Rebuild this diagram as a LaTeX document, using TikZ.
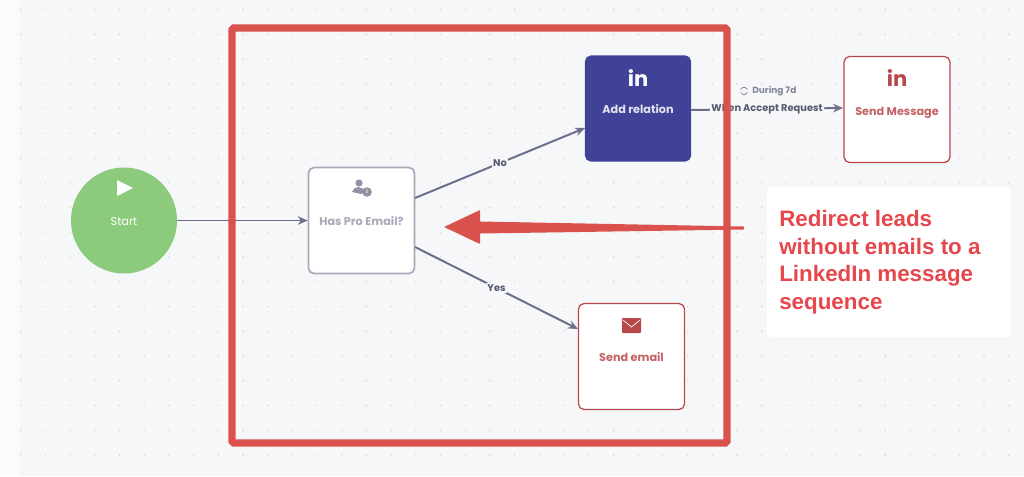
\documentclass[tikz,border=0pt]{standalone}
\usepackage{fontspec}
\usetikzlibrary{arrows.meta}
\setmainfont{Poppins}
\newfontfamily\notefont{Liberation Sans}
\newcommand{\lowtext}[2]{\raisebox{-#1}[0pt][0pt]{#2}}
\definecolor{pagebg}{HTML}{F6F7F9}
\definecolor{edgegray}{HTML}{6E6E8A}
\definecolor{framered}{HTML}{D9524E}
\definecolor{notered}{HTML}{E5474C}
\definecolor{sendred}{HTML}{B8474A}
\definecolor{startgreen}{HTML}{8CCB7C}
\definecolor{relationblue}{HTML}{3F4296}
\definecolor{askgray}{HTML}{A9A9BA}
\tikzset{
  flowbox/.style={rectangle, rounded corners=.14cm, minimum size=2.65cm, line width=.9pt,
    font=\fontsize{8}{10}\selectfont\bfseries},
  sendbox/.style={flowbox, draw=sendred, fill=white, text=sendred!85!white},
  edgelabel/.style={fill=pagebg, inner sep=1pt, text=edgegray!80!black,
    font=\fontsize{7}{8}\selectfont\bfseries},
  edgeline/.style={->, >={Stealth[length=7pt,width=6pt]}, edgegray, line width=1.4pt}
}
\begin{document}
\begin{tikzpicture}[x=.025cm, y=-.025cm]
\useasboundingbox (0,0) rectangle (1024,476);
\fill[white!50!pagebg] (0,0) rectangle (1024,476);
\fill[pagebg] (20,0) rectangle (1024,476);
% dots of the canvas
\foreach \i in {0,...,40}
  \foreach \j in {0,...,18}
    \fill[edgegray!30] (20.7+24.7*\i,9.5+24.75*\j) circle (.8);
% nodes
\node[circle, fill=startgreen, minimum size=2.65cm, text=white,
  font=\fontsize{8}{10}\selectfont] (start) at (124,220.5) {\lowtext{3.2pt}{Start}};
\node[flowbox, draw=askgray, line width=1.2pt, fill=white, text=askgray] (haspro) at (361.5,220.5) {\lowtext{3.2pt}{Has Pro Email?}};
\node[flowbox, fill=relationblue, text=white!85!relationblue] (addrel) at (638,108.5) {\lowtext{3.2pt}{Add relation}};
\node[sendbox] (sendmsg) at (897,109.5) {\lowtext{4.2pt}{Send Message}};
\node[sendbox] (sendmail) at (631.5,356.5) {\lowtext{3.2pt}{Send email}};
% icons
\fill[white, rounded corners=.3pt] (117,180) -- (133,188) -- (117,196) -- cycle;
\node[text=white, font=\fontsize{15}{15}\selectfont\bfseries] (inblue) at (638,78) {in};
\node[text=sendred, font=\fontsize{15}{15}\selectfont\bfseries] (inred) at (897,78) {in};
\fill[edgegray!75] (359,183) circle (3.6);
\fill[edgegray!75] (352,192) to[out=70, in=180] (358,187) to[out=0, in=110] (365,192) -- (361,194) -- cycle;
\node[circle, fill=edgegray!75, text=white, inner sep=0pt, minimum size=.24cm,
  font=\fontsize{3.5}{4}\selectfont\bfseries] (infoicon) at (367,192) {i};
\fill[sendred, rounded corners=.6pt] (622,318) rectangle (641,333);
\draw[white, line width=.5pt] (623,320) -- (631.5,327) -- (640,320);
% connectors
\draw[edgeline] (start) -- (haspro);
\coordinate (hasno) at (415,198);
\coordinate (hasyes) at (415,247);
\coordinate (addin) at (585,128);
\coordinate (mailin) at (578,329);
\coordinate (addout) at (691,110);
\coordinate (msgin) at (843,108);
\draw[edgeline] (hasno) -- node[edgelabel] (nolabel) {No} (addin);
\draw[edgeline] (hasyes) -- node[edgelabel] (yeslabel) {Yes} (mailin);
\draw[edgeline] (addout) -- node[edgelabel] (acceptlabel) {When Accept Request} (msgin);
\node[text=edgegray!85, font=\fontsize{6.4}{8}\selectfont\bfseries, anchor=west, inner sep=0pt] (during) at (752,91) {During 7d};
\draw[edgegray!85, line width=.5pt] (740.5,89.7) arc (200:340:3.7);
\draw[edgegray!85, line width=.5pt] (747.5,92.3) arc (20:160:3.7);
% red frame and note
\draw[framered, line width=5pt, rounded corners=.04cm] (232,28) rectangle (727,443);
\fill[white, rounded corners=.1cm] (767,187) rectangle (1010,337);
\node[text=notered, anchor=north west, align=left, inner sep=0pt,
  font=\notefont\fontsize{15.9}{19.6}\selectfont\bfseries] (note) at (779,210)
  {Redirect leads\\without emails to a\\LinkedIn message\\sequence};
\fill[framered, rounded corners=.5pt] (444,227) -- (480,210) -- (480,221.5) -- (744,226.5) -- (744,229.5) -- (480,233.5) -- (480,244) -- cycle;
\end{tikzpicture}
\end{document}
